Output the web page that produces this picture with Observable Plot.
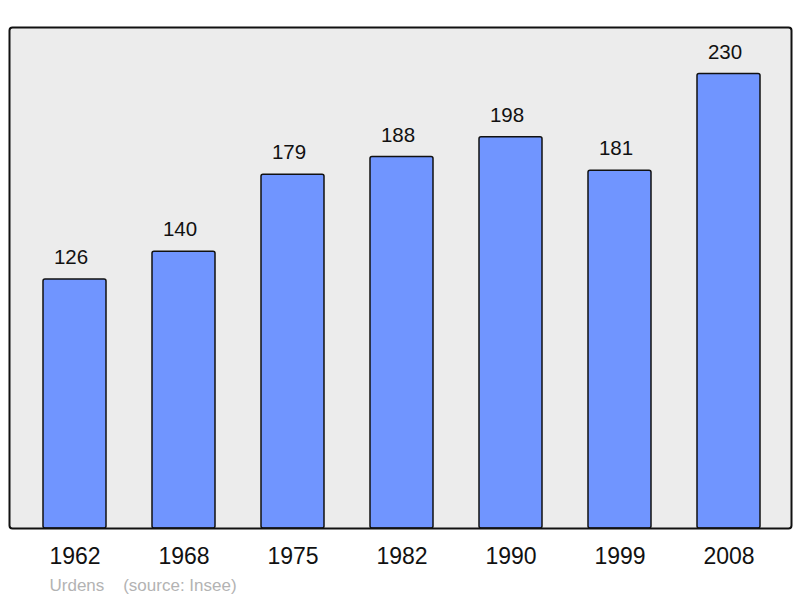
<!DOCTYPE html>
<html>
<head>
<meta charset="utf-8">
<script src="https://cdn.jsdelivr.net/npm/d3@7"></script>
<script src="https://cdn.jsdelivr.net/npm/@observablehq/plot@0.6"></script>
<style>
  html, body { margin: 0; padding: 0; background: #fff; }
  #chart svg { display: block; }
</style>
</head>
<body>
<div id="chart"></div>
<script>
const years = ["1962", "1968", "1975", "1982", "1990", "1999", "2008"];
const population = [126, 140, 179, 188, 198, 181, 230];
const caption = "Urdens\u00a0\u00a0\u00a0\u00a0(source: Insee)";

const data = years.map((y, i) => ({year: y, value: population[i]}));

const chart = Plot.plot({
  width: 800,
  height: 598,
  marginLeft: 9,
  marginRight: 9,
  marginTop: 27,
  marginBottom: 70,
  style: {fontFamily: "'Liberation Sans', Arial, sans-serif", background: "#fff"},
  x: {domain: years, paddingInner: 0.425, paddingOuter: 0, insetLeft: 31, insetRight: 28, label: null},
  y: {domain: [0, 253.5], axis: null},
  marks: [
    Plot.frame({fill: "#ececec", stroke: "none", rx: 3}),
    Plot.barY(data, {x: "year", y: "value", fill: "#7095ff", stroke: "#111", strokeWidth: 1.5, rx: 2}),
    Plot.frame({stroke: "#111", strokeWidth: 2, rx: 3}),
    Plot.text(data, {x: "year", y: "value", text: d => String(d.value), dx: -4, dy: -22, fontSize: 20.5, fill: "#111"}),
    Plot.axisX({tickSize: 0, tickPadding: 19, fontSize: 23, color: "#111", label: null}),
    Plot.text([caption], {frameAnchor: "bottom-left", text: d => d, dx: 40, dy: 62, fontSize: 17, fill: "#b3b3b3", textAnchor: "start"})
  ]
});
document.getElementById("chart").appendChild(chart);
</script>
</body>
</html>
